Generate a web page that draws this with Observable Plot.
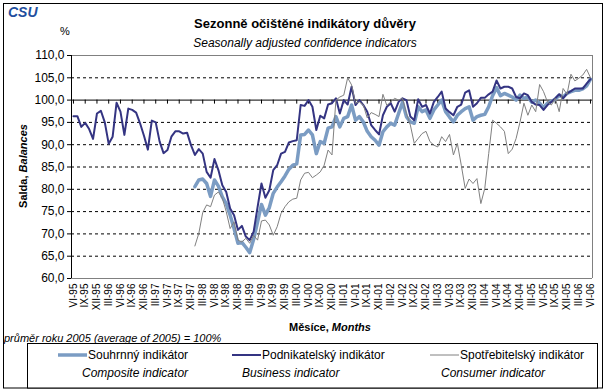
<!DOCTYPE html>
<html><head><meta charset="utf-8">
<script src="https://cdn.jsdelivr.net/npm/d3@7"></script>
<script src="https://cdn.jsdelivr.net/npm/@observablehq/plot@0.6"></script>
<style>body{margin:0;background:#fff}#chart{width:609px;height:390px}</style>
</head><body><div id="chart"></div>
<script>
// Tick labels every 3 months, first month VI-95, last VI-06
const tickLabels = ["VI-95","IX-95","XII-95","III-96","VI-96","IX-96","XII-96","III-97","VI-97","IX-97","XII-97",
"III-98","VI-98","IX-98","XII-98","III-99","VI-99","IX-99","XII-99","III-00","VI-00","IX-00","XII-00",
"III-01","VI-01","IX-01","XII-01","III-02","VI-02","IX-02","XII-02","III-03","VI-03","IX-03","XII-03",
"III-04","VI-04","IX-04","XII-04","III-05","VI-05","IX-05","XII-05","III-06","VI-06"];
const yTicks = [60,65,70,75,80,85,90,95,100,105,110];
const seriesNames = ["Souhrnný indikátor","Podnikatelský indikátor","Spotřebitelský indikátor"];
const seriesNamesEn = ["Composite indicator","Business indicator","Consumer indicator"];

// Business indicator, monthly VI-95 .. VI-06
const business = [
96.4,96.4,94.0,94.9,93.5,91.3,97.0,97.6,95.0,90.2,
91.8,99.4,97.4,92.2,98.1,97.8,97.2,94.8,92.0,88.9,
95.4,95.0,90.7,88.1,88.8,91.8,93.0,93.0,92.5,92.7,
89.9,87.7,89.0,88.0,83.9,82.6,86.8,84.3,80.9,79.4,
75.7,74.2,70.9,71.8,69.4,68.6,70.5,76.0,81.3,78.1,
79.8,84.3,85.4,88.0,88.4,90.5,90.8,91.0,98.9,98.7,
100.0,98.5,93.3,96.5,95.9,99.0,99.3,100.4,97.0,100.0,
99.0,103.0,98.9,100.0,98.9,97.4,94.4,93.3,92.3,96.6,
98.5,99.3,97.4,99.6,100.4,100.0,96.3,95.5,100.2,98.5,
98.9,97.0,99.6,100.7,101.9,98.1,97.3,96.6,98.5,99.0,
101.7,102.2,98.5,99.3,100.5,100.5,101.3,101.9,104.4,102.6,
103.0,103.0,102.6,100.7,100.4,101.5,101.1,99.6,99.0,98.9,
97.8,98.9,99.6,100.4,101.3,100.4,101.5,102.0,102.6,102.6,
102.6,103.7,104.7];

// Composite indicator (from I-98)
const composite = [
null,null,null,null,null,null,null,null,null,null,
null,null,null,null,null,null,null,null,null,null,
null,null,null,null,null,null,null,null,null,null,
null,80.6,82.1,82.3,81.3,78.4,82.1,80.7,78.3,76.8,
74.2,71.2,67.9,68.1,67.0,65.8,68.8,72.7,76.6,74.2,
75.9,79.1,80.5,81.7,83.0,84.5,85.4,85.7,92.2,92.3,
93.3,92.2,88.0,90.7,90.3,93.7,94.0,96.3,94.0,95.9,
96.3,98.9,95.5,96.3,95.1,93.0,91.8,91.0,89.9,92.9,
94.0,94.8,94.4,97.0,99.5,96.3,95.1,94.8,98.5,97.4,
97.8,95.9,97.8,98.9,100.0,97.4,96.2,95.1,96.6,97.4,
98.1,98.5,95.5,96.3,96.6,96.8,98.5,101.0,102.8,101.0,
101.5,101.1,100.7,100.0,101.1,100.4,100.7,99.5,100.0,99.3,
98.3,99.3,99.7,100.2,101.1,100.7,101.5,101.9,102.2,102.2,
102.5,103.2,104.7];

// Consumer indicator (from I-98)
const consumer = [
null,null,null,null,null,null,null,null,null,null,
null,null,null,null,null,null,null,null,null,null,
null,null,null,null,null,null,null,null,null,null,
null,67.3,70.1,74.8,76.5,76.1,78.7,79.4,78.0,75.0,
71.2,72.7,68.6,68.2,69.0,67.9,69.7,68.6,72.9,73.1,
72.0,69.7,71.6,74.6,76.1,77.2,77.8,78.0,82.1,83.6,
83.8,82.6,83.2,83.9,85.4,88.8,87.7,100.0,100.7,101.1,
105.0,103.4,99.3,99.6,98.9,96.0,97.2,96.8,96.3,101.3,
98.8,99.6,100.4,100.0,100.4,97.0,94.4,90.3,91.4,92.5,
93.0,90.7,89.9,89.5,91.8,90.7,92.3,87.7,90.3,85.4,
80.2,82.3,81.3,82.4,76.8,80.2,88.0,95.5,94.8,94.0,
93.0,88.0,89.0,91.4,95.1,99.3,96.6,98.9,97.4,103.5,
101.9,99.6,98.9,100.4,97.4,102.6,101.3,105.8,104.3,104.9,
105.6,106.9,105.0];

const colors = ["#7b9cc3", "#343482", "#808080"];
const widths = [3.5, 2, 1];

const n = business.length;
const rows = business.map((b, i) => ({i, business: b, composite: composite[i], consumer: consumer[i]}));
const tickIdx = tickLabels.map((_, k) => k * 3);
const font = "'Liberation Sans', Arial, sans-serif";

const plot = Plot.plot({
  width: 609, height: 390,
  marginLeft: 71, marginRight: 17, marginTop: 55, marginBottom: 112,
  style: {fontFamily: font, background: "white", color: "black"},
  x: {type: "linear", domain: [-0.5, n - 0.5]},
  y: {domain: [60, 110]},
  marks: [
    Plot.ruleY(yTicks.filter(v => v !== 100 && v !== 60 && v !== 110), {stroke: "black", strokeDasharray: "3,3"}),
    Plot.ruleY([110, 60], {stroke: "#808080"}),
    Plot.ruleX([n - 0.5], {stroke: "#808080"}),
    Plot.ruleY([100], {stroke: "black"}),
    Plot.ruleX(tickIdx, {x: d => d, y1: 100, y2: 99.1, stroke: "black"}),
    Plot.ruleX([-0.5], {stroke: "black"}),
    Plot.axisY({ticks: yTicks, tickFormat: d => d.toFixed(1).replace(".", ","), tickSize: 4, tickPadding: 3, fontSize: 12, label: null}),
    Plot.axisX({ticks: tickIdx, tickFormat: d => tickLabels[d / 3], tickRotate: -90, tickSize: 0, tickPadding: 5, fontSize: 10, label: null}),
    Plot.line(rows, {x: "i", y: "composite", stroke: colors[0], strokeWidth: widths[0], strokeLinejoin: "round"}),
    Plot.line(rows, {x: "i", y: "business", stroke: colors[1], strokeWidth: widths[1], strokeLinejoin: "round"}),
    Plot.line(rows, {x: "i", y: "consumer", stroke: colors[2], strokeWidth: widths[2]})
  ]
});
document.getElementById("chart").appendChild(plot);

const svg = d3.select(plot);
const t = (x, y, s, opts = {}) => svg.append("text").attr("x", x).attr("y", y)
  .attr("font-family", font).attr("font-size", opts.size || 12)
  .attr("font-weight", opts.bold ? "bold" : null).attr("font-style", opts.italic ? "italic" : null)
  .attr("text-anchor", opts.anchor || "start").attr("fill", opts.fill || "black").text(s);

// outer frame
svg.append("rect").attr("x", 3.5).attr("y", 3.5).attr("width", 599).attr("height", 384.5)
  .attr("fill", "none").attr("stroke", "black");
// logo
t(8, 17, "CSU", {size: 14, bold: true, italic: true, fill: "#1f4f9e"});
t(60, 35, "%", {size: 11});
t(305, 28, "Sezonně očištěné indikátory důvěry", {size: 13, bold: true, anchor: "middle"});
t(305, 47, "Seasonally adjusted confidence indicators", {size: 12, italic: true, anchor: "middle"});

// y title
const yt = svg.append("text").attr("transform", "translate(27,166) rotate(-90)")
  .attr("text-anchor", "middle").attr("font-family", font).attr("font-size", 11).attr("font-weight", "bold");
yt.append("tspan").text("Salda, ");
yt.append("tspan").attr("font-style", "italic").text("Balances");

// x title
const xt = svg.append("text").attr("x", 330).attr("y", 331)
  .attr("text-anchor", "middle").attr("font-family", font).attr("font-size", 11).attr("font-weight", "bold");
xt.append("tspan").text("Měsíce, ");
xt.append("tspan").attr("font-style", "italic").text("Months");

t(4, 342, "průměr roku 2005 (average of 2005) = 100%", {size: 11, italic: true});

// legend
svg.append("rect").attr("x", 27.5).attr("y", 343.5).attr("width", 570).attr("height", 44.5)
  .attr("fill", "white").attr("stroke", "black");
const lx = [58, 232, 430];
const enX = [82, 242, 441];
seriesNames.forEach((name, k) => {
  svg.append("line").attr("x1", lx[k]).attr("x2", lx[k] + 29).attr("y1", 355).attr("y2", 355)
    .attr("stroke", colors[k]).attr("stroke-width", widths[k]);
  t(lx[k] + 30, 359, name, {size: 12});
  t(enX[k], 377, seriesNamesEn[k], {size: 12, italic: true});
});
</script>
</body></html>
